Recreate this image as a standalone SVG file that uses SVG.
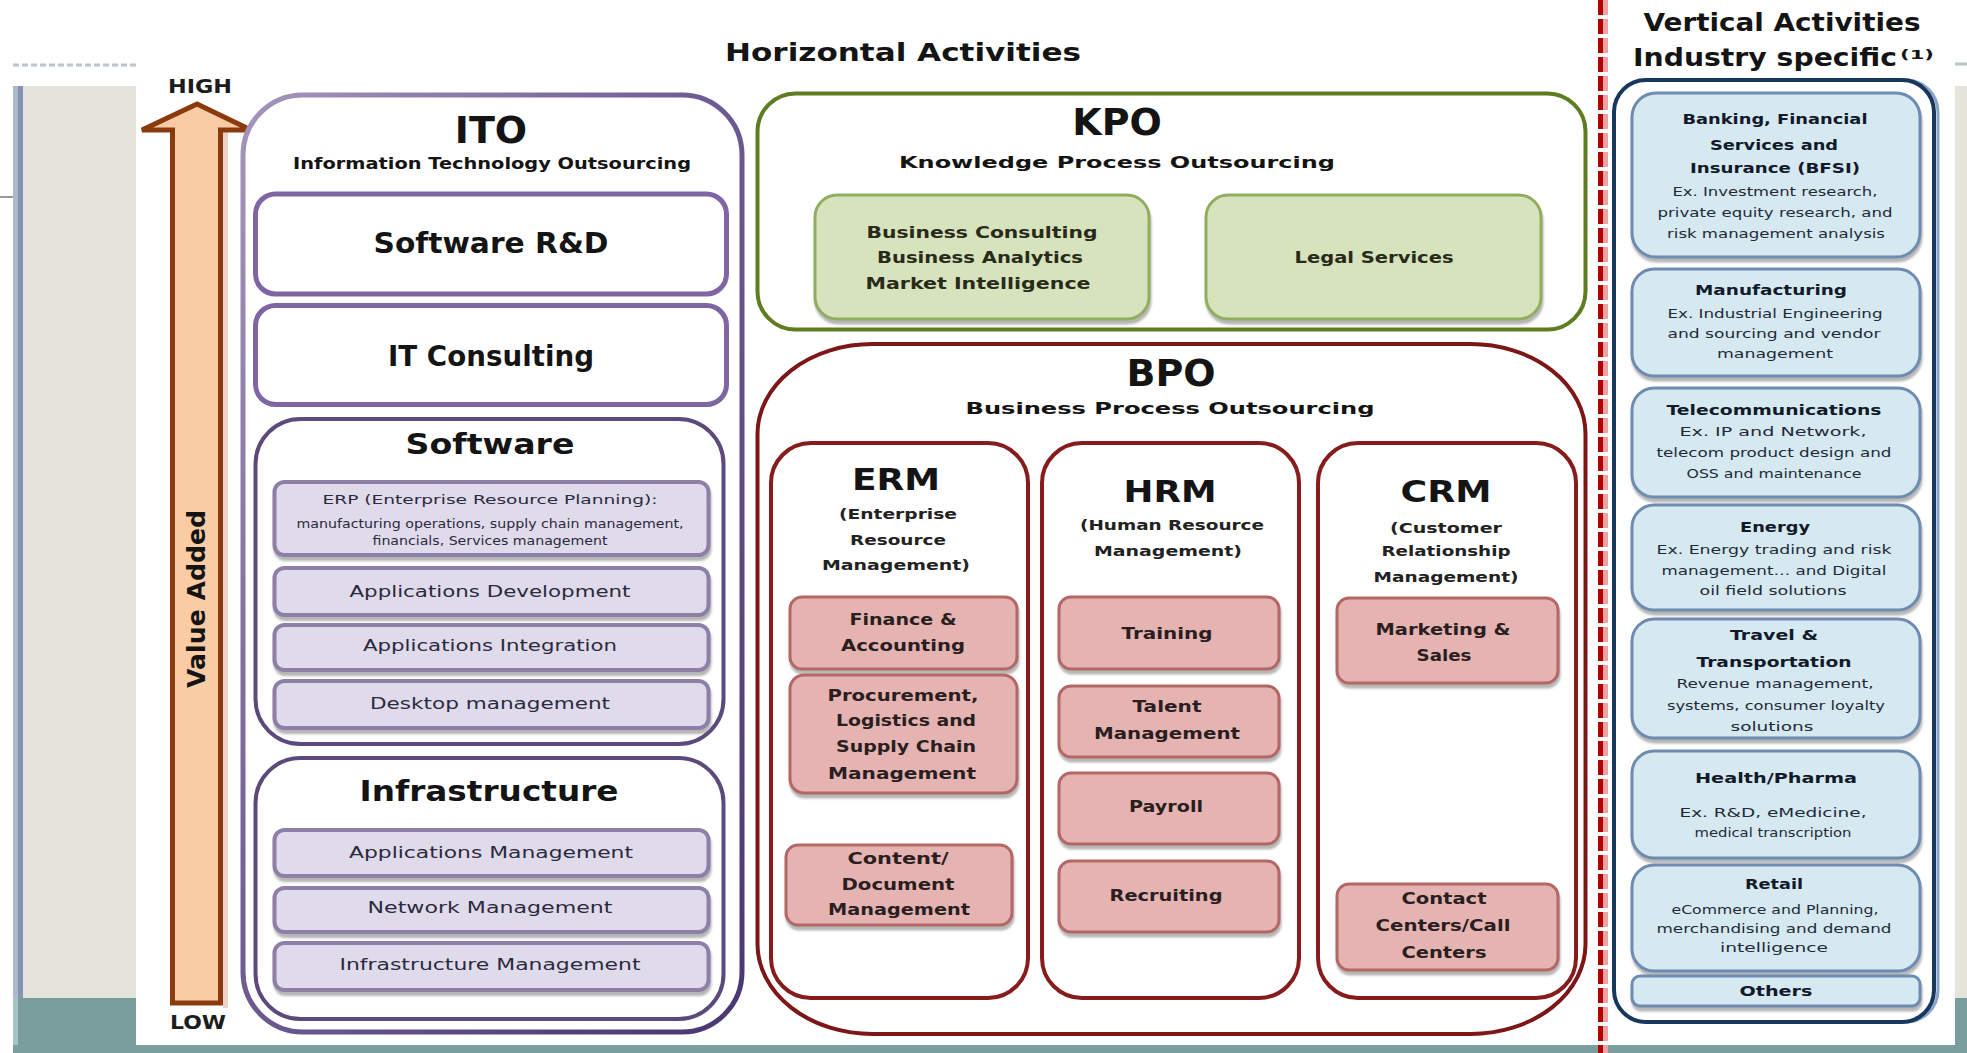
<svg xmlns="http://www.w3.org/2000/svg" width="1967" height="1053" viewBox="0 0 1967 1053">
<defs>
<style>
text{font-family:"DejaVu Sans","Liberation Sans",sans-serif;text-anchor:middle;fill:#141414}
.b{font-weight:bold}
.big{font-size:38px;font-weight:bold}
.ttl{font-size:25px;font-weight:bold}
.sub{font-size:16px;font-weight:bold}
.grp{font-size:29px;font-weight:bold}
.lv{font-size:15px;fill:#2b2940}
.erp{font-size:12px;fill:#2b2940}
.gr{font-size:16px;font-weight:bold;fill:#2a2a1a}
.col{font-size:30px;font-weight:bold}
.colsub{font-size:14px;font-weight:bold;fill:#222}
.pk{font-size:16px;font-weight:bold;fill:#2a1e1e}
.vt{font-size:14px;font-weight:bold;fill:#111a2a}
.vb{font-size:12px;fill:#1e2a3a}
.lab{font-size:19px;font-weight:bold;fill:#1c1c1c}
.lavbox{fill:#e0dbea;stroke:#8d7fa8;stroke-width:4}
.whitebox{fill:#fff;stroke:#7f65a3;stroke-width:5}
.grpbox{fill:#fff;stroke:#5c4a7d;stroke-width:4}
.greenbox{fill:#d6e3bc;stroke:#93ad60;stroke-width:3}
.colbox{fill:#fff;stroke:#861c1c;stroke-width:4}
.pinkbox{fill:#e5b3b2;stroke:#b46866;stroke-width:3}
.bluebox{fill:#d6e9f1;stroke:#6e8bb0;stroke-width:3}
</style>
<filter id="sh" x="-5%" y="-10%" width="110%" height="135%">
<feDropShadow dx="1" dy="4" stdDeviation="1.2" flood-color="#7a7a7a" flood-opacity="0.55"/>
</filter>
<linearGradient id="itoStroke" x1="0" y1="0" x2="1" y2="1">
<stop offset="0" stop-color="#a496bb"/>
<stop offset="0.45" stop-color="#6f5d94"/>
<stop offset="1" stop-color="#4a3670"/>
</linearGradient>
</defs>

<!-- page background and slide frame -->
<rect width="1967" height="1053" fill="#fff"/>
<rect x="23" y="86" width="113" height="912" fill="#e5e4da"/>
<rect x="1955" y="86" width="12" height="912" fill="#e5e4da"/>
<rect x="13" y="86" width="5" height="912" fill="#aeb8cc"/>
<rect x="18" y="86" width="5" height="912" fill="#8593b2"/>
<rect x="13" y="998" width="123" height="55" fill="#7a9e9e"/>
<rect x="13" y="998" width="5" height="55" fill="#a8c4c2"/>
<rect x="1955" y="998" width="12" height="55" fill="#7a9e9e"/>
<rect x="13" y="1045" width="1954" height="8" fill="#7a9e9e"/>
<line x1="13" y1="65" x2="136" y2="65" stroke="#b9c5c8" stroke-width="3" stroke-dasharray="6 3"/>
<line x1="1955" y1="64" x2="1967" y2="64" stroke="#b9c5c8" stroke-width="3"/>
<line x1="0" y1="197" x2="13" y2="197" stroke="#9a9a9a" stroke-width="2"/>

<!-- section titles -->
<text class="ttl" x="903" y="61" textLength="356" lengthAdjust="spacingAndGlyphs">Horizontal Activities</text>
<text class="ttl" x="1782" y="31" textLength="277" lengthAdjust="spacingAndGlyphs">Vertical Activities</text>
<text class="ttl" x="1765" y="66" textLength="264" lengthAdjust="spacingAndGlyphs">Industry specific</text>
<text class="b" x="1917" y="59" font-size="13" textLength="34" lengthAdjust="spacingAndGlyphs">(1)</text>

<!-- divider between horizontal and vertical activities -->
<g id="divider">
<line x1="1600.5" y1="0" x2="1600.5" y2="1053" stroke="#b00000" stroke-width="5" stroke-dasharray="15 4"/>
<line x1="1605.5" y1="0" x2="1605.5" y2="1053" stroke="#e9a3a3" stroke-width="5" stroke-dasharray="15 4"/>
</g>

<!-- value added scale -->
<g id="value-arrow">
<rect x="223" y="132" width="5" height="876" fill="#ebd3c6"/>
<path d="M197,104 L251,130 L220.5,130 L220.5,1003 L172.5,1003 L172.5,130 L142,130 Z" fill="#f9cca5" stroke="#8b3a0e" stroke-width="5" stroke-linejoin="miter"/>
<text class="lab" x="200" y="93" textLength="64" lengthAdjust="spacingAndGlyphs">HIGH</text>
<text class="lab" x="198" y="1029" textLength="56" lengthAdjust="spacingAndGlyphs">LOW</text>
<text class="b" font-size="24" transform="translate(205,599) rotate(-90)" textLength="178" lengthAdjust="spacingAndGlyphs">Value Added</text>
</g>

<!-- ITO -->
<g id="ito">
<rect x="243" y="95" width="499" height="937" rx="60" fill="#fff" stroke="url(#itoStroke)" stroke-width="5"/>
<text class="big" x="491" y="143">ITO</text>
<text class="sub" x="492" y="169" textLength="398" lengthAdjust="spacingAndGlyphs">Information Technology Outsourcing</text>
</g>
<g id="software-rd">
<rect class="whitebox" x="255.5" y="194" width="471" height="100" rx="20"/>
<text class="b" font-size="28" x="491" y="253" textLength="235" lengthAdjust="spacingAndGlyphs">Software R&amp;D</text>
</g>
<g id="it-consulting">
<rect class="whitebox" x="255.5" y="305.5" width="471" height="99" rx="20"/>
<text class="b" font-size="28" x="491" y="366" textLength="206" lengthAdjust="spacingAndGlyphs">IT Consulting</text>
</g>
<g id="software">
<rect class="grpbox" x="255.5" y="419" width="468" height="325" rx="45"/>
<text class="grp" x="490" y="454" textLength="169" lengthAdjust="spacingAndGlyphs">Software</text>
</g>
<g id="erp">
<rect class="lavbox" filter="url(#sh)" x="274.5" y="482" width="434" height="73" rx="10"/>
<text class="erp" x="490" y="504" textLength="335" lengthAdjust="spacingAndGlyphs">ERP (Enterprise Resource Planning):</text>
<text class="erp" x="490" y="528" textLength="387" lengthAdjust="spacingAndGlyphs">manufacturing operations, supply chain management,</text>
<text class="erp" x="490" y="545" textLength="235" lengthAdjust="spacingAndGlyphs">financials, Services management</text>
</g>
<g id="app-dev">
<rect class="lavbox" filter="url(#sh)" x="274.5" y="568" width="434" height="47" rx="10"/>
<text class="lv" x="490" y="597" textLength="281" lengthAdjust="spacingAndGlyphs">Applications Development</text>
</g>
<g id="app-int">
<rect class="lavbox" filter="url(#sh)" x="274.5" y="625" width="434" height="45" rx="10"/>
<text class="lv" x="490" y="651" textLength="254" lengthAdjust="spacingAndGlyphs">Applications Integration</text>
</g>
<g id="desktop">
<rect class="lavbox" filter="url(#sh)" x="274.5" y="681" width="434" height="47" rx="10"/>
<text class="lv" x="490" y="709" textLength="240" lengthAdjust="spacingAndGlyphs">Desktop management</text>
</g>
<g id="infrastructure">
<rect class="grpbox" x="255.5" y="758" width="468" height="261" rx="45"/>
<text class="grp" font-size="30" x="489" y="801" textLength="259" lengthAdjust="spacingAndGlyphs">Infrastructure</text>
</g>
<g id="app-mgmt">
<rect class="lavbox" filter="url(#sh)" x="274.5" y="830" width="434" height="46" rx="10"/>
<text class="lv" x="491" y="858" textLength="284" lengthAdjust="spacingAndGlyphs">Applications Management</text>
</g>
<g id="net-mgmt">
<rect class="lavbox" filter="url(#sh)" x="274.5" y="888" width="434" height="44" rx="10"/>
<text class="lv" x="490" y="913" textLength="245" lengthAdjust="spacingAndGlyphs">Network Management</text>
</g>
<g id="infra-mgmt">
<rect class="lavbox" filter="url(#sh)" x="274.5" y="943" width="434" height="47" rx="10"/>
<text class="lv" x="490" y="970" textLength="301" lengthAdjust="spacingAndGlyphs">Infrastructure Management</text>
</g>

<!-- KPO -->
<g id="kpo">
<rect x="757.5" y="93.5" width="828" height="236" rx="38" fill="#fff" stroke="#5e7d20" stroke-width="4"/>
<text class="big" x="1117" y="135">KPO</text>
<text class="sub" font-size="17" x="1117" y="168" textLength="436" lengthAdjust="spacingAndGlyphs">Knowledge Process Outsourcing</text>
</g>
<g id="kpo-consulting">
<rect class="greenbox" filter="url(#sh)" x="815" y="195" width="334" height="124" rx="22"/>
<text class="gr" x="982" y="238" textLength="231" lengthAdjust="spacingAndGlyphs">Business Consulting</text>
<text class="gr" x="980" y="263" textLength="206" lengthAdjust="spacingAndGlyphs">Business Analytics</text>
<text class="gr" x="978" y="289" textLength="225" lengthAdjust="spacingAndGlyphs">Market Intelligence</text>
</g>
<g id="kpo-legal">
<rect class="greenbox" filter="url(#sh)" x="1206" y="195" width="335" height="124" rx="22"/>
<text class="gr" x="1374" y="263" textLength="159" lengthAdjust="spacingAndGlyphs">Legal Services</text>
</g>

<!-- BPO -->
<g id="bpo">
<rect x="757.5" y="344" width="828" height="690" rx="115" ry="90" fill="#fff" stroke="#7d1616" stroke-width="4"/>
<text class="big" x="1171" y="386">BPO</text>
<text class="sub" font-size="17" x="1170" y="414" textLength="409" lengthAdjust="spacingAndGlyphs">Business Process Outsourcing</text>
</g>
<g id="erm">
<rect class="colbox" x="771" y="443" width="257" height="555" rx="40"/>
<text class="col" x="896" y="490" textLength="88" lengthAdjust="spacingAndGlyphs">ERM</text>
<text class="colsub" x="898" y="519" textLength="118" lengthAdjust="spacingAndGlyphs">(Enterprise</text>
<text class="colsub" x="898" y="545" textLength="96" lengthAdjust="spacingAndGlyphs">Resource</text>
<text class="colsub" x="896" y="570" textLength="148" lengthAdjust="spacingAndGlyphs">Management)</text>
</g>
<g id="hrm">
<rect class="colbox" x="1042" y="443" width="257" height="555" rx="40"/>
<text class="col" x="1170" y="502" textLength="93" lengthAdjust="spacingAndGlyphs">HRM</text>
<text class="colsub" x="1172" y="530" textLength="184" lengthAdjust="spacingAndGlyphs">(Human Resource</text>
<text class="colsub" x="1168" y="556" textLength="148" lengthAdjust="spacingAndGlyphs">Management)</text>
</g>
<g id="crm">
<rect class="colbox" x="1318" y="443" width="258" height="555" rx="40"/>
<text class="col" x="1446" y="502" textLength="91" lengthAdjust="spacingAndGlyphs">CRM</text>
<text class="colsub" x="1446" y="533" textLength="112" lengthAdjust="spacingAndGlyphs">(Customer</text>
<text class="colsub" x="1446" y="556" textLength="129" lengthAdjust="spacingAndGlyphs">Relationship</text>
<text class="colsub" x="1446" y="582" textLength="145" lengthAdjust="spacingAndGlyphs">Management)</text>
</g>
<g id="finance">
<rect class="pinkbox" filter="url(#sh)" x="790" y="597" width="227" height="72" rx="12"/>
<text class="pk" x="903" y="625" textLength="107" lengthAdjust="spacingAndGlyphs">Finance &amp;</text>
<text class="pk" x="903" y="651" textLength="124" lengthAdjust="spacingAndGlyphs">Accounting</text>
</g>
<g id="procurement">
<rect class="pinkbox" filter="url(#sh)" x="790" y="675" width="227" height="118" rx="14"/>
<text class="pk" x="903" y="701" textLength="151" lengthAdjust="spacingAndGlyphs">Procurement,</text>
<text class="pk" x="906" y="726" textLength="140" lengthAdjust="spacingAndGlyphs">Logistics and</text>
<text class="pk" x="906" y="752" textLength="140" lengthAdjust="spacingAndGlyphs">Supply Chain</text>
<text class="pk" x="902" y="779" textLength="148" lengthAdjust="spacingAndGlyphs">Management</text>
</g>
<g id="content-mgmt">
<rect class="pinkbox" filter="url(#sh)" x="786" y="845" width="226" height="80" rx="12"/>
<text class="pk" x="898" y="864" textLength="101" lengthAdjust="spacingAndGlyphs">Content/</text>
<text class="pk" x="898" y="890" textLength="113" lengthAdjust="spacingAndGlyphs">Document</text>
<text class="pk" x="899" y="915" textLength="142" lengthAdjust="spacingAndGlyphs">Management</text>
</g>
<g id="training">
<rect class="pinkbox" filter="url(#sh)" x="1059" y="597" width="220" height="72" rx="12"/>
<text class="pk" x="1167" y="639" textLength="91" lengthAdjust="spacingAndGlyphs">Training</text>
</g>
<g id="talent">
<rect class="pinkbox" filter="url(#sh)" x="1059" y="686" width="220" height="71" rx="12"/>
<text class="pk" x="1167" y="712" textLength="69" lengthAdjust="spacingAndGlyphs">Talent</text>
<text class="pk" x="1167" y="739" textLength="146" lengthAdjust="spacingAndGlyphs">Management</text>
</g>
<g id="payroll">
<rect class="pinkbox" filter="url(#sh)" x="1059" y="773" width="220" height="71" rx="12"/>
<text class="pk" x="1166" y="812" textLength="74" lengthAdjust="spacingAndGlyphs">Payroll</text>
</g>
<g id="recruiting">
<rect class="pinkbox" filter="url(#sh)" x="1059" y="861" width="220" height="71" rx="12"/>
<text class="pk" x="1166" y="901" textLength="113" lengthAdjust="spacingAndGlyphs">Recruiting</text>
</g>
<g id="marketing">
<rect class="pinkbox" filter="url(#sh)" x="1337" y="598" width="221" height="85" rx="12"/>
<text class="pk" x="1443" y="635" textLength="135" lengthAdjust="spacingAndGlyphs">Marketing &amp;</text>
<text class="pk" x="1444" y="661" textLength="55" lengthAdjust="spacingAndGlyphs">Sales</text>
</g>
<g id="contact-centers">
<rect class="pinkbox" filter="url(#sh)" x="1337" y="884" width="221" height="86" rx="12"/>
<text class="pk" x="1444" y="904" textLength="85" lengthAdjust="spacingAndGlyphs">Contact</text>
<text class="pk" x="1443" y="931" textLength="135" lengthAdjust="spacingAndGlyphs">Centers/Call</text>
<text class="pk" x="1444" y="958" textLength="85" lengthAdjust="spacingAndGlyphs">Centers</text>
</g>

<!-- Vertical activities -->
<g id="verticals">
<rect x="1618" y="80" width="320" height="942" rx="32" fill="none" stroke="#8aa3c6" stroke-width="3"/>
<rect x="1614" y="80" width="320" height="942" rx="32" fill="#fff" stroke="#17375e" stroke-width="4"/>
</g>
<g id="bfsi">
<rect class="bluebox" filter="url(#sh)" x="1632" y="93" width="288" height="164" rx="24"/>
<text class="vt" x="1775" y="124" textLength="185" lengthAdjust="spacingAndGlyphs">Banking, Financial</text>
<text class="vt" x="1774" y="150" textLength="128" lengthAdjust="spacingAndGlyphs">Services and</text>
<text class="vt" x="1775" y="173" textLength="170" lengthAdjust="spacingAndGlyphs">Insurance (BFSI)</text>
<text class="vb" x="1775" y="196" textLength="205" lengthAdjust="spacingAndGlyphs">Ex. Investment research,</text>
<text class="vb" x="1775" y="217" textLength="235" lengthAdjust="spacingAndGlyphs">private equity research, and</text>
<text class="vb" x="1776" y="238" textLength="218" lengthAdjust="spacingAndGlyphs">risk management analysis</text>
</g>
<g id="manufacturing">
<rect class="bluebox" filter="url(#sh)" x="1632" y="269" width="288" height="107" rx="22"/>
<text class="vt" x="1771" y="295" textLength="152" lengthAdjust="spacingAndGlyphs">Manufacturing</text>
<text class="vb" x="1775" y="318" textLength="215" lengthAdjust="spacingAndGlyphs">Ex. Industrial Engineering</text>
<text class="vb" x="1774" y="338" textLength="213" lengthAdjust="spacingAndGlyphs">and sourcing and vendor</text>
<text class="vb" x="1775" y="358" textLength="116" lengthAdjust="spacingAndGlyphs">management</text>
</g>
<g id="telecom">
<rect class="bluebox" filter="url(#sh)" x="1632" y="388" width="288" height="109" rx="22"/>
<text class="vt" x="1774" y="415" textLength="215" lengthAdjust="spacingAndGlyphs">Telecommunications</text>
<text class="vb" x="1773" y="436" textLength="187" lengthAdjust="spacingAndGlyphs">Ex. IP and Network,</text>
<text class="vb" x="1774" y="457" textLength="235" lengthAdjust="spacingAndGlyphs">telecom product design and</text>
<text class="vb" x="1774" y="478" textLength="175" lengthAdjust="spacingAndGlyphs">OSS and maintenance</text>
</g>
<g id="energy">
<rect class="bluebox" filter="url(#sh)" x="1632" y="505" width="288" height="105" rx="22"/>
<text class="vt" x="1775" y="532" textLength="70" lengthAdjust="spacingAndGlyphs">Energy</text>
<text class="vb" x="1774" y="554" textLength="235" lengthAdjust="spacingAndGlyphs">Ex. Energy trading and risk</text>
<text class="vb" x="1774" y="575" textLength="225" lengthAdjust="spacingAndGlyphs">management… and Digital</text>
<text class="vb" x="1773" y="595" textLength="147" lengthAdjust="spacingAndGlyphs">oil field solutions</text>
</g>
<g id="travel">
<rect class="bluebox" filter="url(#sh)" x="1632" y="619" width="288" height="119" rx="22"/>
<text class="vt" x="1774" y="640" textLength="88" lengthAdjust="spacingAndGlyphs">Travel &amp;</text>
<text class="vt" x="1774" y="667" textLength="155" lengthAdjust="spacingAndGlyphs">Transportation</text>
<text class="vb" x="1775" y="688" textLength="197" lengthAdjust="spacingAndGlyphs">Revenue management,</text>
<text class="vb" x="1776" y="710" textLength="218" lengthAdjust="spacingAndGlyphs">systems, consumer loyalty</text>
<text class="vb" x="1772" y="731" textLength="83" lengthAdjust="spacingAndGlyphs">solutions</text>
</g>
<g id="health">
<rect class="bluebox" filter="url(#sh)" x="1632" y="751" width="288" height="107" rx="22"/>
<text class="vt" x="1776" y="783" textLength="162" lengthAdjust="spacingAndGlyphs">Health/Pharma</text>
<text class="vb" x="1773" y="817" textLength="187" lengthAdjust="spacingAndGlyphs">Ex. R&amp;D, eMedicine,</text>
<text class="vb" x="1773" y="837" textLength="157" lengthAdjust="spacingAndGlyphs">medical transcription</text>
</g>
<g id="retail">
<rect class="bluebox" filter="url(#sh)" x="1632" y="865" width="288" height="106" rx="22"/>
<text class="vt" x="1774" y="889" textLength="58" lengthAdjust="spacingAndGlyphs">Retail</text>
<text class="vb" x="1775" y="914" textLength="207" lengthAdjust="spacingAndGlyphs">eCommerce and Planning,</text>
<text class="vb" x="1774" y="933" textLength="235" lengthAdjust="spacingAndGlyphs">merchandising and demand</text>
<text class="vb" x="1774" y="952" textLength="108" lengthAdjust="spacingAndGlyphs">intelligence</text>
</g>
<g id="others">
<rect class="bluebox" filter="url(#sh)" x="1632" y="976" width="288" height="30" rx="8"/>
<text class="vt" x="1776" y="996" textLength="73" lengthAdjust="spacingAndGlyphs">Others</text>
</g>

<!-- no connectors in this diagram -->
<g id="connectors"/>
</svg>
